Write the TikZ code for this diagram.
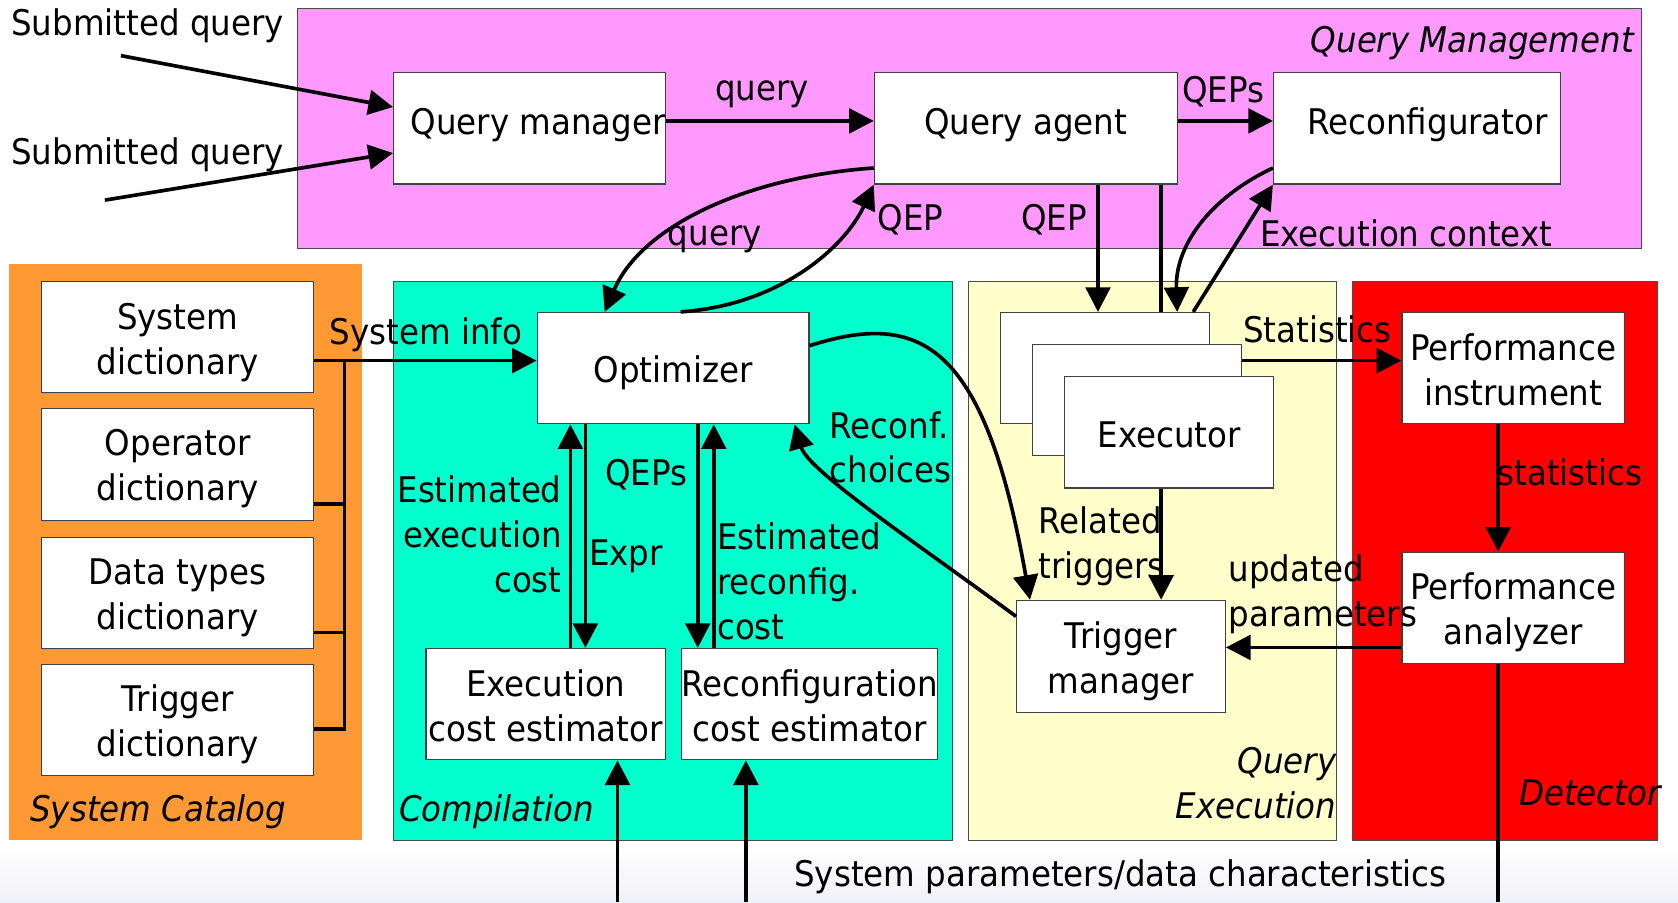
\documentclass[tikz,border=0pt]{standalone}
\usepackage{fontspec}
\setmainfont{DejaVu Sans}[FakeStretch=0.92]
\usetikzlibrary{arrows.meta,calc}

\definecolor{qmpink}{RGB}{255,153,255}
\definecolor{catorange}{RGB}{255,153,51}
\definecolor{compcyan}{RGB}{0,255,204}
\definecolor{execyellow}{RGB}{255,255,204}
\definecolor{detred}{RGB}{255,0,0}
\definecolor{bgblue}{RGB}{240,240,248}

\newcommand\dgtext{\fontsize{33}{42}\selectfont}
% invisible strut that lowers the text inside a box
\newcommand\bxs[1]{\rule{0pt}{#1pt}}

\begin{document}
\begin{tikzpicture}[x=1pt,y=-1pt,
  box/.style={draw=black!75, line width=1.1pt, fill=white, inner sep=0pt,
              align=center, font=\dgtext, minimum height=104pt},
  lbl/.style={inner sep=0pt, align=center, font=\dgtext},
  grplbl/.style={inner sep=0pt, font=\dgtext\itshape},
  grp/.style={draw=black!70, line width=1pt},
  arr/.style={line width=3.4pt, -{Triangle[length=23pt,width=23pt]}},
  wire/.style={line width=3.4pt},
  feed/.style={line width=3.4pt, -{Triangle[length=23pt,width=23pt]}},
  feedline/.style={line width=3.4pt}]

\useasboundingbox (0,0) rectangle (1568,843);
\fill[white] (0,0) rectangle (1568,843);
\shade[top color=white, bottom color=bgblue] (0,790) rectangle (1568,843);

% subsystem areas
\filldraw[grp, fill=qmpink] (278,8) rectangle (1534,232);
\fill[catorange] (8,247) rectangle (338,785);
\filldraw[grp, fill=compcyan] (368,263) rectangle (890,785);
\filldraw[grp, fill=execyellow] (905,263) rectangle (1249,785);
\filldraw[grp, fill=detred] (1264,263) rectangle (1549,785);

\node[grplbl, anchor=east] (lqm) at (1527,40) {Query Management};
\node[grplbl] (lsc) at (148,759) {System Catalog};
\node[grplbl] (lcp) at (464,759) {Compilation};
\node[grplbl, anchor=east, align=right] (lqe) at (1249,732) {Query\\Execution};
\node[grplbl, anchor=east] (ldt) at (1552,741) {Detector};

% query management
\node[box, minimum width=254pt, text depth=14pt] (qm) at (495,120) {\hspace*{16pt}Query manager};
\node[box, minimum width=283pt, text depth=14pt] (qa) at (958.5,120) {Query agent};
\node[box, minimum width=268pt, text depth=14pt] (rc) at (1324,120) {\hspace*{20pt}Reconfigurator};

% system catalog
\node[box, minimum width=254pt] (sd) at (166,315) {\bxs{34}System\\dictionary};
\node[box, minimum width=254pt] (od) at (166,434) {\bxs{33}Operator\\dictionary};
\node[box, minimum width=254pt] (dd) at (166,554) {\bxs{33}Data types\\dictionary};
\node[box, minimum width=254pt] (td) at (166,673) {\bxs{33}Trigger\\dictionary};

% compilation
\node[box, minimum width=254pt] (opt) at (629,344) {\bxs{33}Optimizer};
\node[box, minimum width=224pt] (ece) at (510,658) {\bxs{28}Execution\\cost estimator};
\node[box, minimum width=239pt] (rce) at (756.5,658) {\bxs{28}Reconfiguration\\cost estimator};

% query execution
\node[box, minimum width=195pt] (ex1) at (1032.5,344) {};
\node[box, minimum width=195pt] (ex2) at (1062.5,374) {};
\node[box, minimum width=195pt] (ex3) at (1092.5,404) {\bxs{29}Executor};
\node[box, minimum width=195pt, minimum height=105pt] (tm) at (1047.5,613.5) {\bxs{34}Trigger\\manager};

% detector
\node[box, minimum width=208pt] (pi) at (1414,344) {\bxs{29}Performance\\instrument};
\node[box, minimum width=208pt] (pa) at (1414,568) {\bxs{33}Performance\\analyzer};

% free ends
\coordinate (s1) at (113,52);
\coordinate (s2) at (98,187);
\coordinate (bustop) at (322,337);
\coordinate (b1) at (577,843);
\coordinate (b2) at (697,843);
\coordinate (b3) at (1400,843);

% submitted queries
\draw[arr] (s1) -- ([yshift=20]qm.west);
\draw[arr] (s2) -- ([yshift=-23]qm.west);
\draw[arr] ([yshift=7]qm.east) -- ([yshift=7]qa.west);
\draw[arr] ([yshift=7]qa.east) -- ([yshift=7]rc.west);

% query agent <-> optimizer
\draw[arr] ([yshift=-37]qa.west) .. controls (700,165) and (600,210) .. ([xshift=-64]opt.north);
\draw[arr] ([xshift=7]opt.north) .. controls (730,285) and (790,230) .. (qa.south west);

% query agent / reconfigurator <-> executors
\draw[arr] ([xshift=67.5]qa.south) -- ([xshift=-6.5]ex1.north);
\draw[wire] ([xshift=126.5]qa.south) -- ([xshift=52.5]ex1.north);
\draw[arr] ([yshift=-37]rc.west) .. controls (1130,185) and (1098,230) .. ([xshift=67.5]ex1.north);
\draw[arr] ([xshift=82.5]ex1.north) -- (rc.south west);

% catalog bus
\draw[arr] ([yshift=-22]sd.east) -- ([yshift=7]opt.west);
\draw[wire] ([yshift=-8]td.east) -| (bustop);
\draw[wire] ([yshift=-37]od.east) -- ([yshift=-37]od.east -| bustop);
\draw[wire] ([yshift=-37]dd.east) -- ([yshift=-37]dd.east -| bustop);

% optimizer <-> estimators
\draw[arr] ([xshift=23]ece.north) -- ([xshift=-96]opt.south);
\draw[arr] ([xshift=-82]opt.south) -- ([xshift=37]ece.north);
\draw[arr] ([xshift=23]opt.south) -- ([xshift=-104.5]rce.north);
\draw[arr] ([xshift=-89.5]rce.north) -- ([xshift=38]opt.south);

% optimizer <-> trigger manager
\draw[arr] ([yshift=37.5]tm.west) .. controls (860,510) and (755,440) .. ([xshift=-14]opt.south east);
\draw[arr] ([yshift=21]opt.east) .. controls (860,290) and (920,320) .. ([xshift=13]tm.north west);

% execution and detection
\draw[arr] ([yshift=37]ex2.east) -- ([yshift=7]pi.west);
\draw[arr] ([xshift=-7.5]ex3.south) -- ([xshift=37.5]tm.north);
\draw[arr] ([xshift=-14]pi.south) -- ([xshift=-14]pa.north);
\draw[arr] ([yshift=-37]pa.west) -- ([yshift=8.5]tm.east);

% system parameters
\draw[feed] (b1) -- ([xshift=67]ece.south);
\draw[feed] (b2) -- ([xshift=-59.5]rce.south);
\draw[feedline] ([xshift=-14]pa.south) -- (b3);

% connector labels
\node[lbl] (t1) at (138,24) {Submitted query};
\node[lbl] (t2) at (138,145) {Submitted query};
\node[lbl] (t3) at (712,88) {query};
\node[lbl] (t4) at (1143,86) {QEPs};
\node[lbl] (t5) at (668,224) {query};
\node[lbl] (t6) at (851,205) {QEP};
\node[lbl] (t7) at (985,205) {QEP};
\node[lbl] (t8) at (1314,218) {Execution context};
\node[lbl] (t9) at (398,313) {System info};
\node[lbl, anchor=east, align=right] (t10) at (525,499) {Estimated\\execution\\cost};
\node[lbl] (t11) at (585,520) {Expr};
\node[lbl] (t12) at (604,444) {QEPs};
\node[lbl, anchor=west, align=left] (t13) at (670,543) {Estimated\\reconfig.\\cost};
\node[lbl, anchor=west, align=left] (t14) at (775,418) {Reconf.\\choices};
\node[lbl] (t15) at (1231,308) {Statistics};
\node[lbl, anchor=west, align=left] (t16) at (970,510) {Related\\triggers};
\node[lbl] (t17) at (1467,441) {statistics};
\node[lbl, anchor=west, align=left] (t18) at (1148,555) {updated\\parameters};
\node[lbl] (t19) at (1047,819) {System parameters/data characteristics};

\end{tikzpicture}
\end{document}
